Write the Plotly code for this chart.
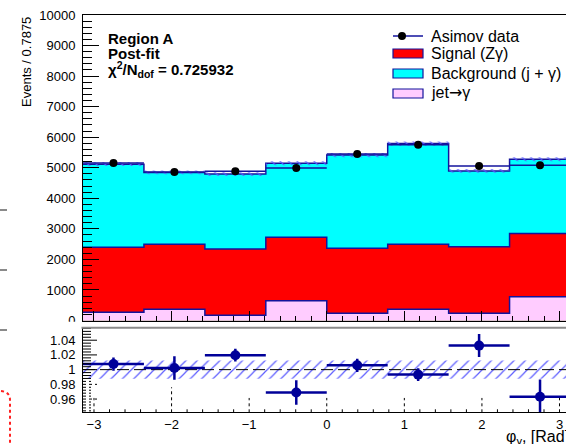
import numpy as np
import plotly.graph_objects as go

W, H = 566, 444
FONT = "Liberation Sans, Arial, Helvetica, sans-serif"

# ---- binning of the photon azimuth (8 bins over [-pi, pi]) ----
n_bins = 8
phi_edges = np.linspace(-np.pi, np.pi, n_bins + 1)
phi_centers = 0.5 * (phi_edges[:-1] + phi_edges[1:])
half_width = 0.5 * (phi_edges[1] - phi_edges[0])

# ---- post-fit yields per bin (events) ----
jet_to_gamma = [270, 367, 170, 650, 236, 367, 236, 780]
signal_zg = [2130, 2131, 2174, 2078, 2131, 2131, 2174, 2066]
background_jg = [2718, 2349, 2448, 2422, 3048, 3292, 2485, 2434]
asimov_data = [5157, 4858, 4886, 4990, 5447, 5751, 5055, 5085]

# relative uncertainties
data_rel_err = [0.009, 0.016, 0.0086, 0.0165, 0.009, 0.0086, 0.0156, 0.0234]
mc_rel_unc = [0.0125, 0.0125, 0.0125, 0.0125, 0.0125, 0.0125, 0.0125, 0.0125]

# axis ticks
main_y_range = [0, 10000]
ratio_y_range = [0.942, 1.057]
ratio_tick_vals = [0.96, 0.98, 1.0, 1.02, 1.04]
ratio_tick_text = ["0.96", "0.98", "1", "1.02", "1.04"]
phi_tick_vals = [-3, -2, -1, 0, 1, 2, 3]

chi2_ndof = "0.725932"

# colours
C_PINK = "#FFCCFF"
C_RED = "#FF0000"
C_CYAN = "#00FFFF"
C_EDGE = "#13139c"
C_HATCH = "#5b5bff"
C_RATIO = "#000099"

# ---- frame geometry (pixels in the 566x444 page) ----
X0_PX = 83.0          # left frame edge
XR_PX = 570.5         # right frame edge (just past the page)
TOP_Y0, TOP_Y1 = 15.0, 320.5
RAT_Y0, RAT_Y1 = 327.7, 412.3


def px(x):
    return x / W


def py(y):
    return 1 - y / H


x_right = -np.pi + 2 * np.pi * (W - X0_PX) / (XR_PX - X0_PX)

# cumulative stack
lvl_jet = np.array(jet_to_gamma, dtype=float)
lvl_sig = lvl_jet + np.array(signal_zg)
lvl_tot = lvl_sig + np.array(background_jg)
data = np.array(asimov_data, dtype=float)
unc = np.array(mc_rel_unc)
ratio = data / lvl_tot


def step(values):
    return list(phi_edges), list(values) + [values[-1]]


def band(lo, hi):
    xs, ys = [], []
    for i in range(n_bins):
        xs += [phi_edges[i], phi_edges[i + 1]]
        ys += [hi[i], hi[i]]
    for i in reversed(range(n_bins)):
        xs += [phi_edges[i + 1], phi_edges[i]]
        ys += [lo[i], lo[i]]
    return xs + [xs[0]], ys + [ys[0]]


fig = go.Figure()

# stacked histograms (drawn from the top level down)
for lvl, col in [(lvl_tot, C_CYAN), (lvl_sig, C_RED), (lvl_jet, C_PINK)]:
    sx, sy = step(lvl)
    fig.add_trace(go.Scatter(x=sx, y=sy, mode="lines", line=dict(shape="hv", color=C_EDGE, width=1.5),
                             fill="tozeroy", fillcolor=col, xaxis="x", yaxis="y", hoverinfo="skip"))

# total uncertainty band on the stack
bx, by = band(lvl_tot * (1 - unc), lvl_tot * (1 + unc))
fig.add_trace(go.Scatter(x=bx, y=by, mode="lines", line=dict(width=0), fill="toself",
                         fillcolor="rgba(0,0,0,0)",
                         fillpattern=dict(shape="\\", fgcolor=C_HATCH, bgcolor="rgba(0,0,0,0)",
                                          size=6, solidity=0.2, fillmode="replace"),
                         xaxis="x", yaxis="y", hoverinfo="skip"))

# Asimov data
fig.add_trace(go.Scatter(x=phi_centers, y=data, mode="markers",
                         marker=dict(color="black", size=8),
                         error_x=dict(type="constant", value=half_width, color=C_EDGE, thickness=1.5, width=0),
                         xaxis="x", yaxis="y"))

# ---- ratio panel ----
rx, ry = band(1 - unc, 1 + unc)
fig.add_trace(go.Scatter(x=rx, y=ry, mode="lines", line=dict(width=0), fill="toself",
                         fillcolor="rgba(0,0,0,0)",
                         fillpattern=dict(shape="/", fgcolor=C_HATCH, bgcolor="rgba(0,0,0,0)",
                                          size=8, solidity=0.15, fillmode="replace"),
                         xaxis="x2", yaxis="y2", hoverinfo="skip"))
fig.add_trace(go.Scatter(x=[-np.pi, np.pi], y=[1, 1], mode="lines",
                         line=dict(color="black", width=1, dash="12px,5px"),
                         xaxis="x2", yaxis="y2", hoverinfo="skip"))
fig.add_trace(go.Scatter(x=phi_centers, y=ratio, mode="markers",
                         marker=dict(color=C_RATIO, size=10),
                         error_x=dict(type="constant", value=half_width, color=C_RATIO, thickness=2.5, width=0),
                         error_y=dict(type="data", array=data_rel_err, color=C_RATIO, thickness=2.5, width=0),
                         xaxis="x2", yaxis="y2"))

shapes = []

# dotted tick marks along the ratio x axis
for v in phi_tick_vals:
    top = 0.976 if v == -2 else 0.9615
    shapes.append(dict(type="line", xref="x2", yref="y2", x0=v, x1=v, y0=ratio_y_range[0], y1=top,
                       line=dict(color="black", width=1, dash="dot"), layer="above"))
for v in np.round(np.arange(-3.0, 3.01, 0.2), 1):
    if abs(v - round(v)) > 1e-6:
        shapes.append(dict(type="line", xref="x2", yref="y2", x0=v, x1=v, y0=ratio_y_range[0], y1=0.9485,
                           line=dict(color="black", width=1, dash="dot"), layer="above"))

# ratio y axis tick marks (solid above the band, dotted below)
for v in np.round(np.arange(0.944, 1.0565, 0.004), 3):
    major = any(abs(v - t) < 1e-6 for t in ratio_tick_vals)
    length = 14 if major else 8
    solid = v >= 0.987
    shapes.append(dict(type="line", xref="paper", yref="y2", x0=px(X0_PX), x1=px(X0_PX + length), y0=v, y1=v,
                       line=dict(color="black", width=1, dash="solid" if solid else "dot")))

# lower pad edge hides the bottom of the main panel's "0" label
shapes.append(dict(type="rect", xref="paper", yref="paper", x0=px(40), x1=px(82), y0=py(327), y1=py(321.8),
                   fillcolor="white", line=dict(width=0), layer="above"))
# top edge of the ratio pad
shapes.append(dict(type="line", xref="paper", yref="paper", x0=px(81.5), x1=1, y0=py(RAT_Y0), y1=py(RAT_Y0),
                   line=dict(color="#8a8a8a", width=2), layer="above"))

# pieces of the neighbouring pad on the left
for yy in [210, 270, 330]:
    shapes.append(dict(type="line", xref="paper", yref="paper", x0=0, x1=px(7), y0=py(yy), y1=py(yy),
                       line=dict(color="#8a8a8a", width=2)))
shapes.append(dict(type="path", xref="paper", yref="paper",
                   path="M {} {} Q {} {} {} {} L {} {}".format(px(1), py(391), px(10), py(392), px(10), py(400),
                                                               px(10), py(446)),
                   line=dict(color="#ff2020", width=2, dash="dot")))

# legend swatches
leg_x0, leg_x1 = 393, 423
shapes.append(dict(type="line", xref="paper", yref="paper", x0=px(leg_x0), x1=px(leg_x1), y0=py(36), y1=py(36),
                   line=dict(color=C_EDGE, width=1.5)))
shapes.append(dict(type="circle", xref="paper", yref="paper", x0=px(402 - 4), x1=px(402 + 4),
                   y0=py(36 + 4), y1=py(36 - 4), fillcolor="black", line=dict(width=0)))
for yc, col in [(53.5, C_RED), (73.5, C_CYAN), (93.5, C_PINK)]:
    shapes.append(dict(type="rect", xref="paper", yref="paper", x0=px(leg_x0), x1=px(leg_x1),
                       y0=py(yc + 4.5), y1=py(yc - 4.5), fillcolor=col, line=dict(color=C_EDGE, width=1.2)))

annotations = []


def text(x, y, s, size, xanchor="left", angle=0):
    annotations.append(dict(xref="paper", yref="paper", x=px(x), y=py(y), text=s, showarrow=False,
                            xanchor=xanchor, yanchor="middle", textangle=angle,
                            font=dict(family=FONT, size=size, color="black")))


text(106, 38, "<b>Region A</b>", 15)
text(106, 53, "<b>Post-fit</b>", 15)
text(106, 70, "<b>χ<sup>2</sup>/N<sub>dof</sub> = " + chi2_ndof + "</b>", 15)

text(429, 36, "Asimov data", 16)
text(429, 53, "Signal (Zγ)", 16)
text(429, 73, "Background (j + γ)", 16)
text(429, 93, "jet<span style=\"font-family:DejaVu Sans\">→</span>γ", 16)

annotations.append(dict(xref="paper", yref="paper", x=px(27), y=py(15), text="Events / 0.7875",
                        showarrow=False, xanchor="center", yanchor="top", textangle=-90,
                        font=dict(family=FONT, size=13, color="black")))
text(504, 437, "φ<sub>γ</sub>, [Rad]", 16)

axis_common = dict(showgrid=False, zeroline=False, linecolor="black", linewidth=1, tickcolor="black",
                   automargin=False, tickfont=dict(family=FONT, size=13, color="black"))

fig.update_layout(
    width=W, height=H, margin=dict(l=0, r=0, t=0, b=0, pad=0, autoexpand=False),
    paper_bgcolor="white", plot_bgcolor="white", showlegend=False,
    font=dict(family=FONT, size=13, color="black"),
    xaxis=dict(domain=[px(X0_PX), 1], range=[-np.pi, x_right], anchor="y", showticklabels=False,
               ticks="inside", ticklen=10, dtick=1, tick0=0,
               minor=dict(ticks="inside", ticklen=5, dtick=0.2, tick0=0, tickcolor="black"),
               showline=True, mirror=True, **axis_common),
    yaxis=dict(domain=[py(TOP_Y1), py(TOP_Y0)], range=main_y_range, anchor="x",
               ticks="inside", ticklen=16, dtick=1000, tick0=0, tickformat="d",
               minor=dict(ticks="inside", ticklen=9, dtick=200, tick0=0, tickcolor="black"),
               showline=True, mirror=False, ticklabelstandoff=4, **axis_common),
    xaxis2=dict(domain=[px(X0_PX), 1], range=[-np.pi, x_right], anchor="y2",
                tickvals=phi_tick_vals, ticks="", showline=True, mirror=False, ticklabelstandoff=0,
                **axis_common),
    yaxis2=dict(domain=[py(RAT_Y1), py(RAT_Y0)], range=ratio_y_range, anchor="x2",
                tickvals=ratio_tick_vals, ticktext=ratio_tick_text, ticks="", showline=True,
                mirror=False, ticklabelstandoff=4, **axis_common),
    shapes=shapes,
    annotations=annotations,
)

fig.write_html("out.html")
